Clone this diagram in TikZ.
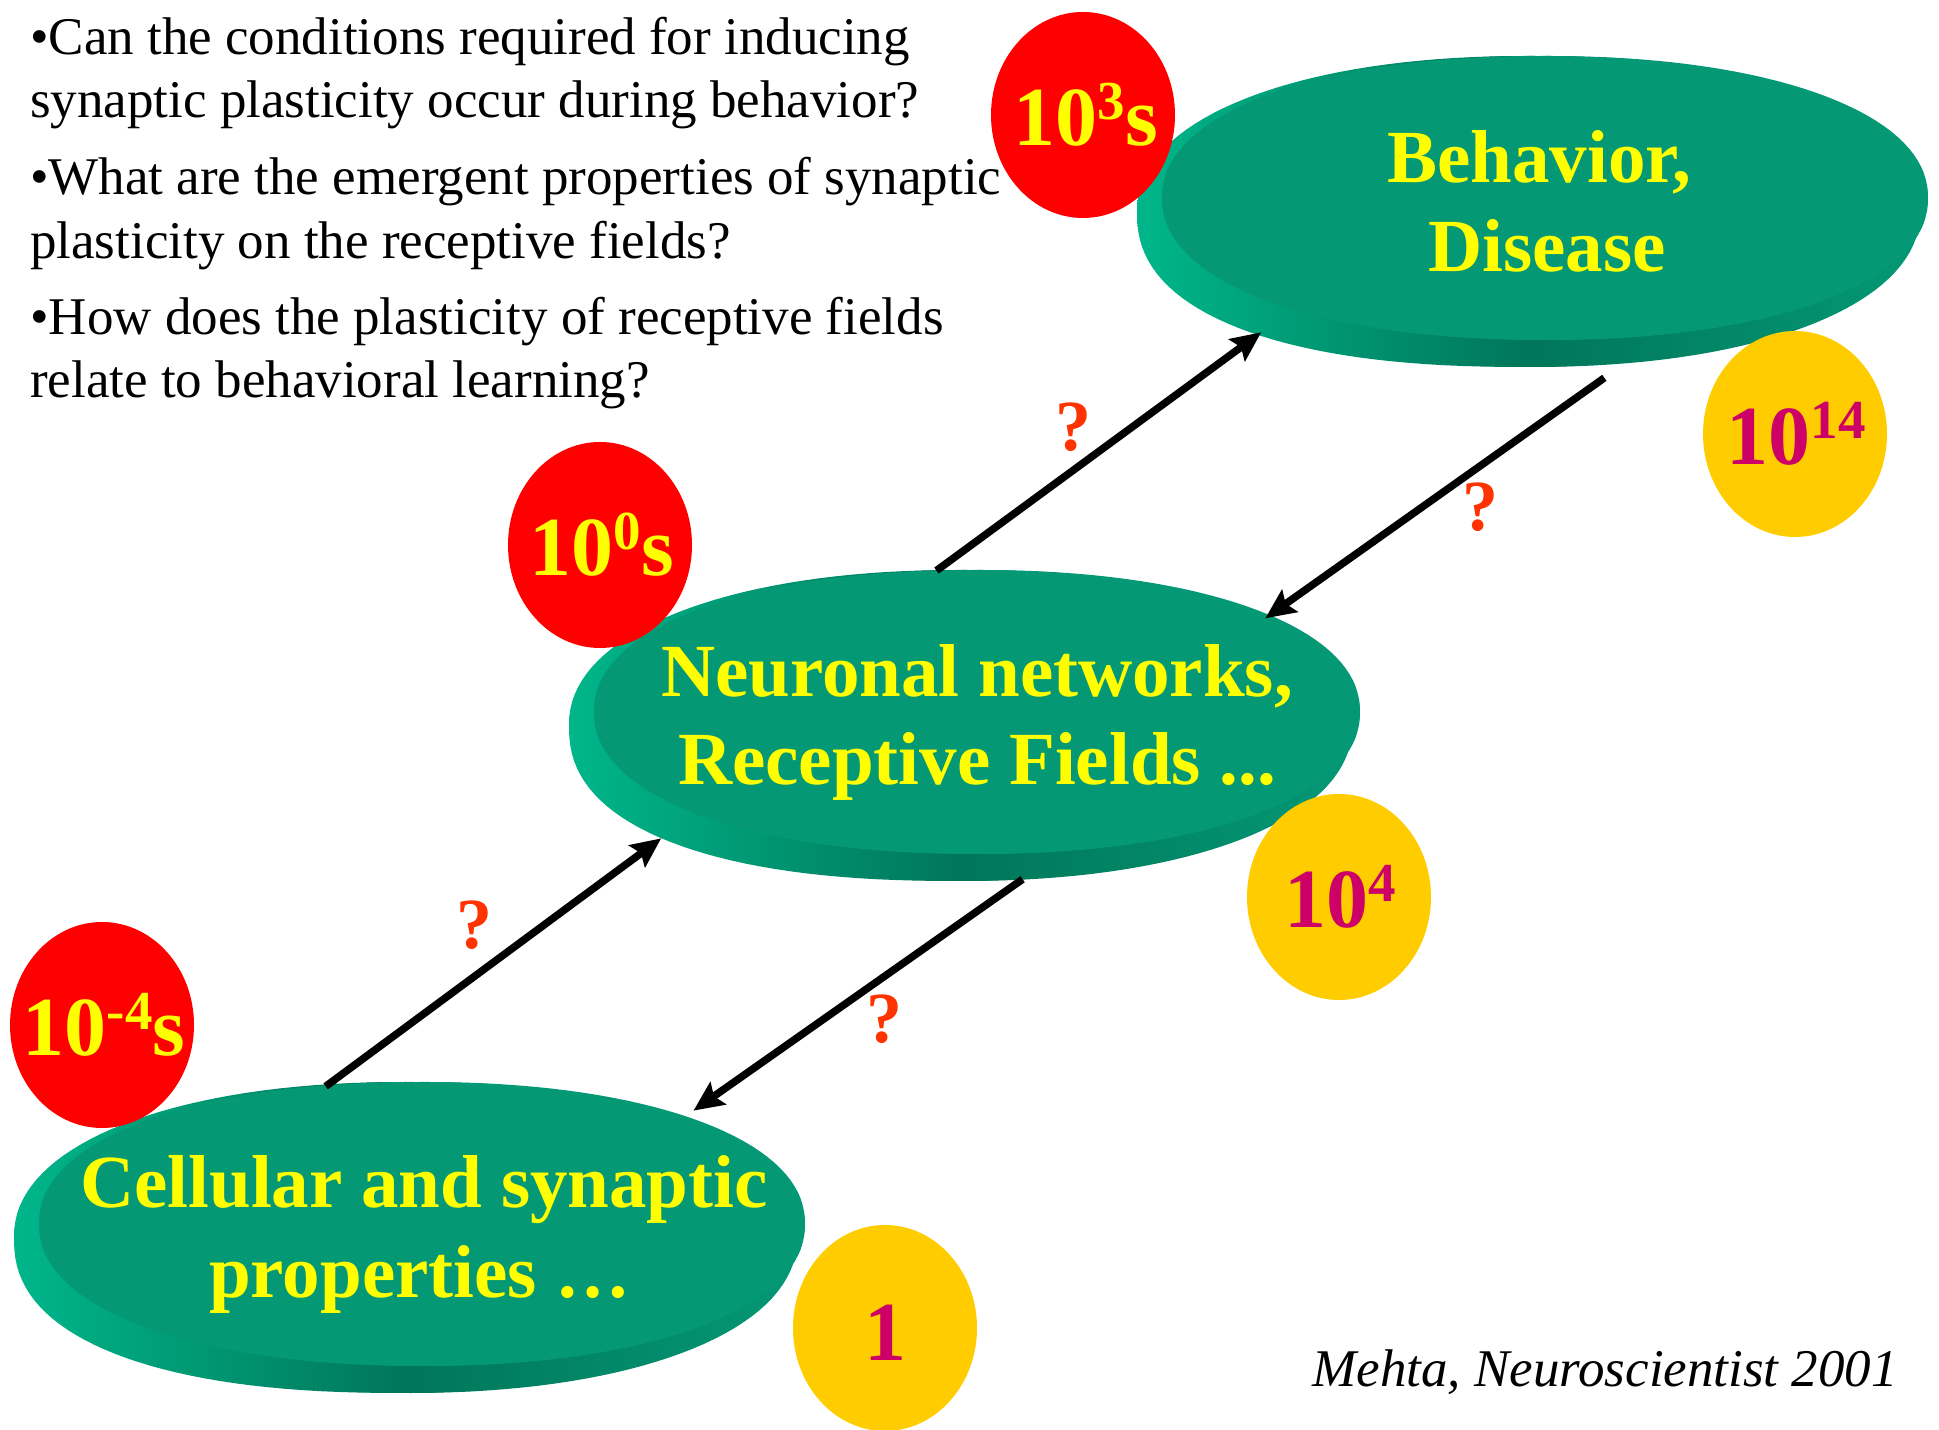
\documentclass[tikz,border=0pt]{standalone}
\usepackage{fontspec}
\setmainfont{Liberation Serif}
\usetikzlibrary{shapes.geometric,arrows.meta}
\definecolor{disktop}{RGB}{4,152,116}
\definecolor{sidelight}{RGB}{0,182,138}
\definecolor{sidedark}{RGB}{0,118,90}
\definecolor{redc}{RGB}{255,0,0}
\definecolor{yelt}{RGB}{255,255,0}
\definecolor{goldc}{RGB}{255,204,0}
\definecolor{crim}{RGB}{204,0,102}
\definecolor{qmark}{RGB}{255,51,0}
\tikzset{
  disktopface/.style={ellipse, minimum width=766pt, minimum height=284pt, inner sep=0pt, fill=disktop},
  diskfill/.style={left color=sidelight, right color=disktop, middle color=sidedark},
  disksideface/.style={ellipse, minimum width=783pt, minimum height=311pt, inner sep=0pt, diskfill},
  disklabel/.style={anchor=base, inner sep=0pt, text=yelt, font=\fontsize{75}{80}\selectfont\bfseries},
  redblob/.style={ellipse, minimum width=184pt, minimum height=206pt, inner sep=0pt, fill=redc},
  goldblob/.style={ellipse, minimum width=184pt, minimum height=206pt, inner sep=0pt, fill=goldc},
  timelabel/.style={anchor=base, inner sep=0pt, text=yelt, font=\fontsize{84}{90}\selectfont\bfseries},
  countlabel/.style={anchor=base, inner sep=0pt, text=crim, font=\fontsize{84}{90}\selectfont\bfseries},
  qlabel/.style={inner sep=0pt, text=qmark, font=\fontsize{72}{76}\selectfont\bfseries},
  bulletline/.style={anchor=base west, inner sep=0pt, font=\fontsize{53}{60}\selectfont},
  arr/.style={line width=7.5pt, -{Stealth[length=30pt,width=27pt,inset=5pt]}},
}
\newcommand{\supx}[1]{\raisebox{26pt}{\fontsize{55}{60}\selectfont #1}}
\newcommand{\superell}[2]{plot[domain=1.25:358.75, samples=143, variable=\t]
  ({#1*sign(cos(\t))*abs(cos(\t))^0.93}, {#2*sign(sin(\t))*abs(sin(\t))^0.93}) -- cycle}
\newcommand{\sideshape}[2]{plot[domain=1.25:358.75, samples=143, variable=\t]
  ({#1*sign(cos(\t))*abs(cos(\t))^(0.93-0.08*(cos(\t)<0)*(sin(\t)<0))},
   {#2*sign(sin(\t))*abs(sin(\t))^(0.93-0.08*(cos(\t)<0)*(sin(\t)<0))}) -- cycle}
\begin{document}
\begin{tikzpicture}[x=1pt,y=1pt]
\useasboundingbox (0,0) rectangle (1939,1430);
% ---- disk: behavior
\node[disksideface] (behS) at (1528.5,1218.5) {};
\path[diskfill, shift={(1528.5,1218.5)}] \sideshape{391.5}{155.5};
\path[fill=disktop, shift={(1545,1232)}] \superell{383}{142};
\node[disktopface] (beh) at (1545,1232) {};
% ---- disk: networks
\node[disksideface] (netS) at (960.5,704.5) {};
\path[diskfill, shift={(960.5,704.5)}] \sideshape{391.5}{155.5};
\path[fill=disktop, shift={(977,718)}] \superell{383}{142};
\node[disktopface] (net) at (977,718) {};
% ---- disk: cellular
\node[disksideface] (cellS) at (405.5,192.5) {};
\path[diskfill, shift={(405.5,192.5)}] \sideshape{391.5}{155.5};
\path[fill=disktop, shift={(422,206)}] \superell{383}{142};
\node[disktopface] (cell) at (422,206) {};
% ---- disk labels
\node[disklabel] (beh1) at (1539,1247) {Behavior,};
\node[disklabel] (beh2) at (1547,1158) {Disease};
\node[disklabel] (net1) at (977,733) {Neuronal networks,};
\node[disklabel] (net2) at (977,645) {Receptive Fields ...};
\node[disklabel] (cell1) at (424,222) {Cellular and synaptic};
\node[disklabel] (cell2) at (420,132) {properties …};
% ---- arrows
\draw[arr, shorten >=13pt] (cell.125) -- (netS.200);
\draw[arr, shorten >=15pt] (netS.292) -- (cell.22);
\draw[arr, shorten >=8pt] (net.106) -- (behS.204);
\draw[arr, shorten <=27pt] (behS.303) -- (net.18);
% ---- question marks
\node[qlabel] (qa) at (474,505) {?};
\node[qlabel] (qb) at (884,411) {?};
\node[qlabel] (qc) at (1073,1003) {?};
\node[qlabel] (qd) at (1480,923) {?};
% ---- time scale blobs
\node[redblob] (t3) at (1083,1315) {};
\node[timelabel] (t3l) at (1086,1284) {10\supx{3}s};
\node[redblob] (t0) at (600,885) {};
\node[timelabel] (t0l) at (602,854) {10\supx{0}s};
\node[redblob] (tm4) at (102,405) {};
\node[timelabel] (tm4l) at (104,374) {10\supx{-4}s};
% ---- count blobs
\node[goldblob] (n14) at (1795,996) {};
\node[countlabel] (n14l) at (1796,965) {10\supx{14}};
\node[goldblob] (n4) at (1339,533) {};
\node[countlabel] (n4l) at (1340,502) {10\supx{4}};
\node[goldblob] (n1) at (885,102) {};
\node[countlabel] (n1l) at (885,69) {1};
% ---- questions
\node[bulletline] (q1a) at (30,1375) {•Can the conditions required for inducing};
\node[bulletline] (q1b) at (30,1312) {synaptic plasticity occur during behavior?};
\node[bulletline] (q2a) at (30,1235) {•What are the emergent properties of synaptic};
\node[bulletline] (q2b) at (30,1171) {plasticity on the receptive fields?};
\node[bulletline] (q3a) at (30,1095) {•How does the plasticity of receptive fields};
\node[bulletline] (q3b) at (30,1032) {relate to behavioral learning?};
% ---- citation
\node[anchor=base east, inner sep=0pt, font=\fontsize{53}{60}\selectfont\itshape] (cite) at (1898,43) {Mehta, Neuroscientist 2001};
\end{tikzpicture}
\end{document}
